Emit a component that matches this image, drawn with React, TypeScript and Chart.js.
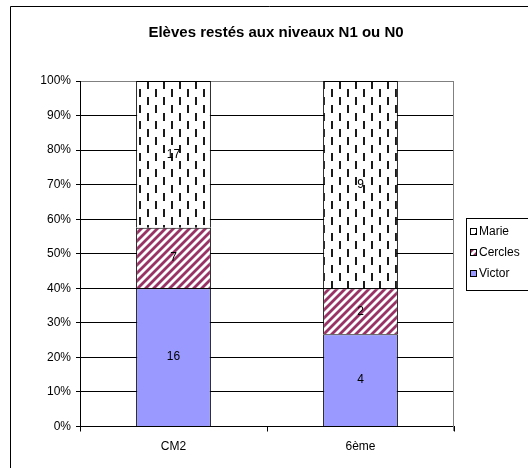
import React, { useEffect, useRef } from "react";
import { Chart, registerables } from "chart.js";

Chart.register(...registerables);

const chartTitle = "Elèves restés aux niveaux N1 ou N0";
const categories = ["CM2", "6ème"];
const seriesNames = ["Victor", "Cercles", "Marie"];
const victorValues = [16, 4];
const cerclesValues = [7, 2];
const marieValues = [17, 9];
const yTickValues = [0, 10, 20, 30, 40, 50, 60, 70, 80, 90, 100];

const FONT = "'Liberation Sans', Arial, sans-serif";

function makeStripePattern(ctx: CanvasRenderingContext2D): CanvasPattern | string {
  const c = document.createElement("canvas");
  c.width = 8;
  c.height = 8;
  const g = c.getContext("2d");
  if (!g) return "#993366";
  const img = g.createImageData(8, 8);
  for (let y = 0; y < 8; y++) {
    for (let x = 0; x < 8; x++) {
      const d = (x + y) % 8;
      let r = 255, gg = 255, b = 255;
      if (d < 3) { r = 153; gg = 51; b = 102; }
      else if (d === 3 || d === 7) { r = 204; gg = 153; b = 178; }
      const i = (y * 8 + x) * 4;
      img.data[i] = r; img.data[i + 1] = gg; img.data[i + 2] = b; img.data[i + 3] = 255;
    }
  }
  g.putImageData(img, 0, 0);
  return ctx.createPattern(c, "repeat") || "#993366";
}

function makeDashPattern(ctx: CanvasRenderingContext2D): CanvasPattern | string {
  const c = document.createElement("canvas");
  c.width = 16;
  c.height = 16;
  const g = c.getContext("2d");
  if (!g) return "#ffffff";
  g.fillStyle = "#ffffff";
  g.fillRect(0, 0, 16, 16);
  g.fillStyle = "#1a1a1a";
  g.fillRect(3, 1, 2, 8);
  g.fillRect(11, 9, 2, 8);
  g.fillRect(11, 0, 2, 1);
  return ctx.createPattern(c, "repeat") || "#ffffff";
}

export default function App() {
  const canvasRef = useRef<HTMLCanvasElement | null>(null);

  useEffect(() => {
    const canvas = canvasRef.current;
    if (!canvas) return;
    const ctx = canvas.getContext("2d");
    if (!ctx) return;

    const stripe = makeStripePattern(ctx);
    const dash = makeDashPattern(ctx);
    const victorColor = "#9999FF";

    const rawSeries = [victorValues, cerclesValues, marieValues];
    const fills: (CanvasPattern | string)[] = [victorColor, stripe, dash];
    const totals = categories.map((_, i) => rawSeries.reduce((s, arr) => s + arr[i], 0));

    const datasets = rawSeries.map((arr, k) => ({
      label: seriesNames[k],
      data: arr.map((v, i) => (v / totals[i]) * 100),
      backgroundColor: fills[k],
      borderColor: "#000000",
      borderWidth: 1,
      barPercentage: 0.4,
      categoryPercentage: 1.0,
    }));

    const deco = {
      id: "deco",
      beforeDraw(chart: any) {
        const c = chart.ctx;
        c.save();
        c.fillStyle = "#ffffff";
        c.fillRect(0, 0, chart.width, chart.height);
        c.strokeStyle = "#000000";
        c.lineWidth = 1;
        c.beginPath();
        c.moveTo(10.5, chart.height + 2);
        c.lineTo(10.5, 6.5);
        c.lineTo(chart.width + 2, 6.5);
        c.stroke();
        c.restore();
      },
      afterDatasetsDraw(chart: any) {
        const c = chart.ctx;
        const area = chart.chartArea;
        c.save();
        c.strokeStyle = "#808080";
        c.lineWidth = 1;
        c.beginPath();
        const rx = Math.round(area.right) - 0.5;
        c.moveTo(rx, Math.round(area.top) + 0.5);
        c.lineTo(rx, Math.round(area.bottom) + 4);
        c.stroke();
        // data labels
        c.fillStyle = "#000000";
        c.font = `12px ${FONT}`;
        c.textAlign = "center";
        c.textBaseline = "middle";
        rawSeries.forEach((arr, k) => {
          const meta = chart.getDatasetMeta(k);
          meta.data.forEach((bar: any, j: number) => {
            const p = bar.getProps(["x", "y", "base"], true);
            c.fillText(String(arr[j]), p.x, (p.y + p.base) / 2);
          });
        });
        c.restore();
      },
      afterDraw(chart: any) {
        const c = chart.ctx;
        c.save();
        // title
        c.fillStyle = "#000000";
        c.font = `bold 15px ${FONT}`;
        c.textAlign = "center";
        c.textBaseline = "alphabetic";
        c.fillText(chartTitle, 276, 36.5);
        // legend
        c.strokeStyle = "#000000";
        c.lineWidth = 1;
        c.strokeRect(466.5, 218.5, 90, 72);
        const order = [2, 1, 0];
        const rowY = [232, 253, 274];
        c.font = `12px ${FONT}`;
        c.textAlign = "left";
        c.textBaseline = "middle";
        order.forEach((k, r) => {
          const y = rowY[r];
          c.fillStyle = fills[k] as any;
          c.fillRect(470, y - 4, 7, 7);
          c.strokeStyle = "#000000";
          c.strokeRect(470.5, y - 3.5, 6, 6);
          c.fillStyle = "#000000";
          c.fillText(seriesNames[k], 479, y);
        });
        c.restore();
      },
    };

    const chart = new Chart(canvas, {
      type: "bar",
      data: { labels: categories, datasets },
      plugins: [deco],
      options: {
        responsive: false,
        animation: false,
        devicePixelRatio: 1,
        layout: { padding: { left: 10, right: 74, top: 81, bottom: 0 } },
        plugins: {
          legend: { display: false },
          title: { display: false },
          tooltip: { enabled: false },
        },
        scales: {
          x: {
            stacked: true,
            offset: true,
            grid: {
              offset: true,
              drawOnChartArea: false,
              drawTicks: true,
              tickLength: 5,
              color: "#000000",
            },
            border: { color: "#000000", width: 1 },
            ticks: {
              color: "#000000",
              font: { family: FONT, size: 12 },
              padding: 8,
            },
            afterFit: (s: any) => {
              s.height = 41.5;
            },
          },
          y: {
            stacked: true,
            min: 0,
            max: 100,
            afterBuildTicks: (s: any) => {
              s.ticks = yTickValues.map((v) => ({ value: v }));
            },
            grid: {
              color: (c: any) => (c.tick && c.tick.value === 100 ? "#808080" : "#000000"),
              tickColor: "#000000",
              drawTicks: true,
              tickLength: 4,
            },
            border: { color: "#000000", width: 1 },
            ticks: {
              color: "#000000",
              font: { family: FONT, size: 12 },
              padding: 5,
              callback: (v: any) => `${v}%`,
            },
            afterFit: (s: any) => {
              s.width = 70;
            },
          },
        },
      } as any,
    });

    return () => {
      chart.destroy();
    };
  }, []);

  return (
    <div style={{ position: "fixed", left: 0, top: 0, width: 528, height: 468, background: "#fff" }}>
      <canvas ref={canvasRef} width={528} height={468} style={{ width: 528, height: 468, display: "block" }} />
    </div>
  );
}
